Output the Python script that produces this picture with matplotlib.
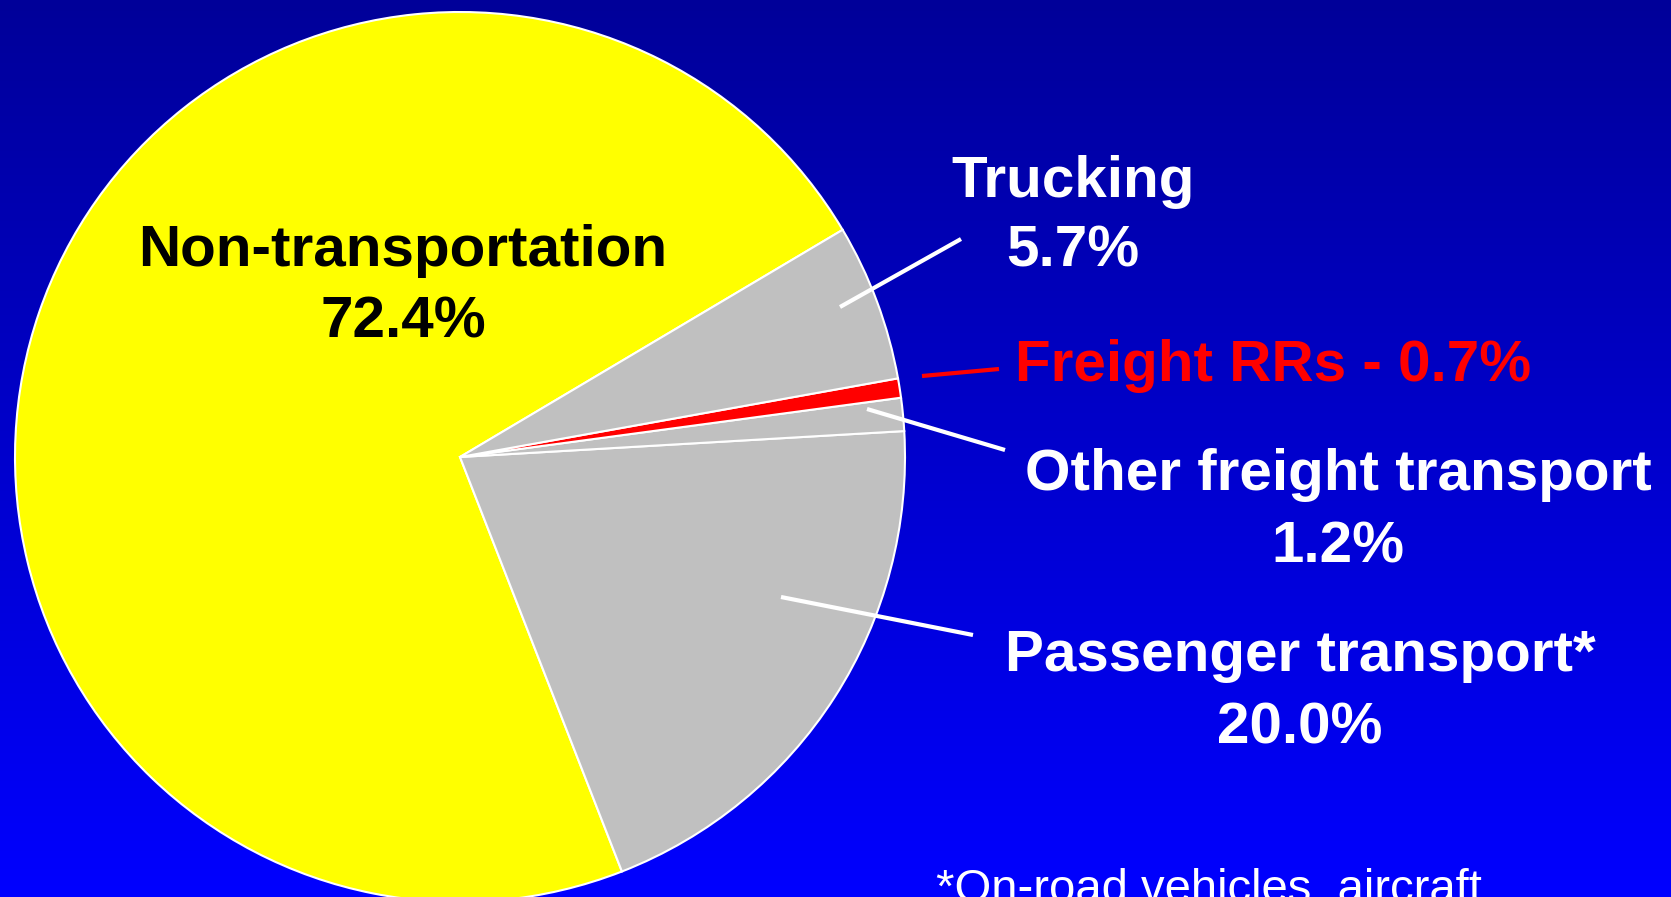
import numpy as np
import matplotlib.pyplot as plt

# Share of emissions by sector (percent)
categories = ["Non-transportation", "Passenger transport*", "Other freight transport",
              "Freight RRs", "Trucking"]
shares = [72.4, 20.0, 1.2, 0.7, 5.7]
wedge_colors = ["#FFFF00", "#C0C0C0", "#C0C0C0", "#FF0000", "#C0C0C0"]
footnote = "*On-road vehicles, aircraft"

W, H = 1671, 897
FONT = "Liberation Sans"

fig = plt.figure(figsize=(W / 100, H / 100), dpi=100)
ax = fig.add_axes([0, 0, 1, 1])

# background gradient: dark navy at top -> pure blue at bottom
grad = np.linspace(153, 255, 256)[:, None] / 255.0
bg = np.zeros((256, 2, 3))
bg[:, :, 2] = grad
ax.imshow(bg, extent=(0, W, 0, H), origin="upper", aspect="auto", zorder=0)

cx, cy, r = 460, H - 457, 445
ax.pie(shares, colors=wedge_colors, startangle=30.7, counterclock=True,
       center=(cx, cy), radius=r, frame=True,
       wedgeprops=dict(edgecolor="white", linewidth=1.5, zorder=2))

ax.set_xlim(0, W)
ax.set_ylim(0, H)
ax.set_aspect("auto")
ax.axis("off")

def yy(y):
    return H - y

txt = dict(family=FONT, fontweight="bold", fontsize=42, va="baseline", zorder=5)

pct = [f"{v:.1f}%" for v in shares]

# Non-transportation (inside yellow slice)
ax.text(403, yy(266), categories[0], ha="center", color="black", **txt)
ax.text(403, yy(337), pct[0], ha="center", color="black", **txt)

# Trucking
ax.text(1073, yy(197), categories[4], ha="center", color="white", **txt)
ax.text(1073, yy(266), pct[4], ha="center", color="white", **txt)

# Freight RRs (single line, red)
ax.text(1015, yy(381), f"{categories[3]} - {pct[3]}", ha="left", color="#FF0000", **txt)

# Other freight transport
ax.text(1338, yy(490), categories[2], ha="center", color="white", **txt)
ax.text(1338, yy(562), pct[2], ha="center", color="white", **txt)

# Passenger transport
ax.text(1300, yy(671), categories[1], ha="center", color="white", **txt)
ax.text(1300, yy(743), pct[1], ha="center", color="white", **txt)

# leader lines
leaders = [
    ((840, 307), (961, 239), "white"),
    ((922, 376), (999, 369), "#FF0000"),
    ((867, 409), (1005, 450), "white"),
    ((781, 597), (973, 635), "white"),
]
for (x0, y0), (x1, y1), c in leaders:
    ax.plot([x0, x1], [yy(y0), yy(y1)], color=c, linewidth=3, solid_capstyle="butt", zorder=4)

# footnote runs off the bottom edge, as in the original slide
ax.text(936, yy(902), footnote, ha="left", va="baseline", color="white",
        family=FONT, fontsize=34, zorder=5)

plt.savefig("out.png", dpi=100)
